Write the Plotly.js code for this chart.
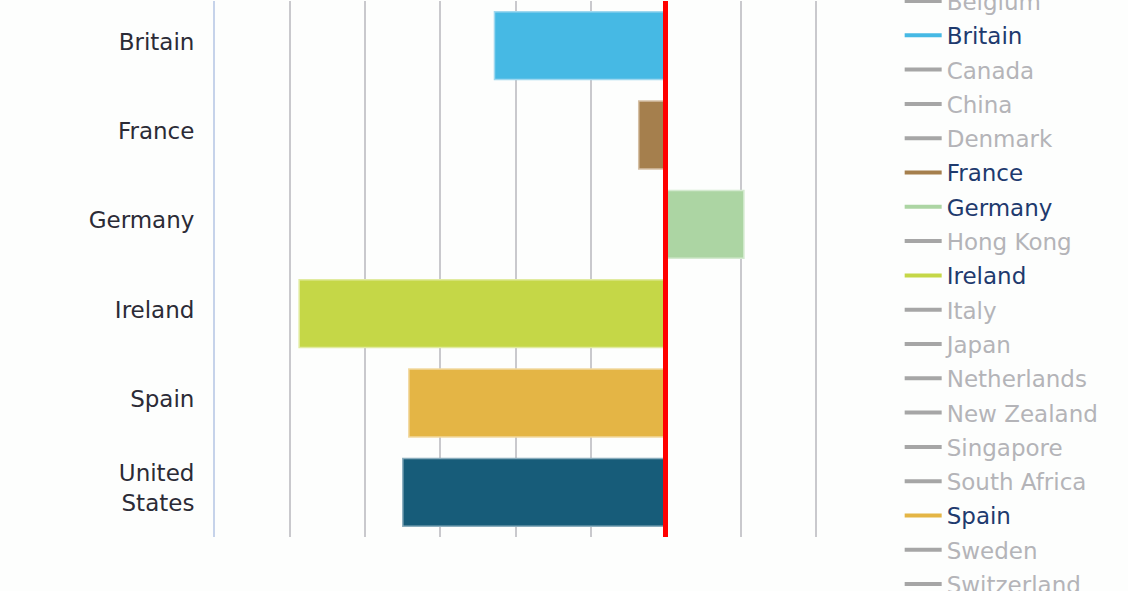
<!DOCTYPE html>
<html>
<head>
<meta charset="utf-8">
<script src="https://cdn.plot.ly/plotly-3.0.1.min.js"></script>
<style>
  html, body { margin: 0; padding: 0; background: #fdfefd; }
  #chart { width: 1128px; height: 591px; }
</style>
</head>
<body>
<div id="chart"></div>
<script>
const countries = ["Britain", "France", "Germany", "Ireland", "Spain", "United States"];
const tickText = ["Britain", "France", "Germany", "Ireland", "Spain", "United<br>States"];
const priceChange = [-11.4, -1.8, 5.2, -24.4, -17.1, -17.5];
const barColors = ["#46b9e4", "#a57f4d", "#acd5a3", "#c5d747", "#e4b545", "#175c79"];
const barEdges = ["#9fd8ef", "#d5c0a5", "#d4ead0", "#e1eba0", "#f1d9a0", "#8aadbd"];

// legend list; the selected ones take the bar colours
const legendNames = ["Belgium", "Britain", "Canada", "China", "Denmark", "France", "Germany",
  "Hong Kong", "Ireland", "Italy", "Japan", "Netherlands", "New Zealand", "Singapore",
  "South Africa", "Spain", "Sweden", "Switzerland", "United States"];

const bars = {
  type: "bar",
  orientation: "h",
  y: countries,
  x: priceChange,
  marker: { color: barColors, line: { color: barEdges, width: 1.5 } },
  showlegend: false,
  hoverinfo: "x+y"
};

// empty line traces, only there for the legend entries
const legendTraces = legendNames.map((name, i) => {
  const k = countries.indexOf(name);
  const on = k >= 0;
  return {
    type: "scatter",
    mode: "lines",
    x: [null],
    y: [null],
    name: on ? '<span style="color:#1e3a6e">' + name + "</span>" : name,
    legendgroup: "g" + i,
    line: { color: on ? barColors[k] : "#a6a6a6", width: 4 },
    hoverinfo: "skip"
  };
});

const layout = {
  width: 1128,
  height: 591,
  margin: { l: 215, r: 298, t: 1, b: 54, autoexpand: false },
  paper_bgcolor: "#fdfefd",
  plot_bgcolor: "#fdfefd",
  font: { family: "DejaVu Sans, Verdana, sans-serif", size: 23, color: "#2b2b36" },
  bargap: 0.24,
  showlegend: true,
  legend: {
    x: 1.1133, xanchor: "left",
    y: 1.040, yanchor: "top",
    traceorder: "grouped",
    tracegroupgap: 1.4,
    itemwidth: 37,
    maxheight: 2000,
    bgcolor: "rgba(0,0,0,0)",
    borderwidth: 0,
    font: { size: 23, color: "#b4b4b8" }
  },
  xaxis: {
    range: [-30, 10.93],
    tick0: 0,
    dtick: 5,
    showticklabels: false,
    ticks: "",
    showgrid: true,
    gridcolor: "#c9c9cd",
    gridwidth: 1.5,
    zeroline: true,
    zerolinecolor: "#ff0000",
    zerolinewidth: 5,
    zerolinelayer: "above traces",
    fixedrange: true
  },
  yaxis: {
    type: "category",
    autorange: "reversed",
    tickvals: countries,
    ticktext: tickText,
    ticks: "",
    ticklabelstandoff: 14,
    ticklabelshift: 4,
    showline: true,
    linecolor: "#c6d3ea",
    linewidth: 2,
    showgrid: false,
    zeroline: false,
    fixedrange: true
  }
};

Plotly.newPlot("chart", [bars].concat(legendTraces), layout, { displayModeBar: false });
</script>
</body>
</html>
